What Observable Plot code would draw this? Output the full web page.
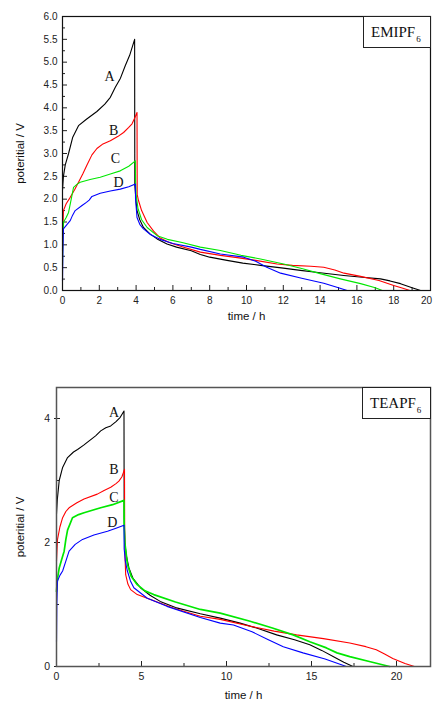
<!DOCTYPE html>
<html>
<head>
<meta charset="utf-8">
<script src="https://cdn.jsdelivr.net/npm/d3@7"></script>
<script src="https://cdn.jsdelivr.net/npm/@observablehq/plot@0.6"></script>
<style>
  html, body { margin: 0; padding: 0; background: white; }
  #wrap { position: relative; width: 433px; height: 701px; overflow: hidden; }
  .panel { position: absolute; left: 0; }
  .tag { position: absolute; box-sizing: border-box; border: 1px solid #222; background: white;
         font-family: "Liberation Serif", "Times New Roman", serif; font-size: 15px; color: #111;
         line-height: 1; padding: 8px 0 0 7px; }
  .tag sub { font-size: 9px; vertical-align: -5px; margin-left: 1px; }
</style>
</head>
<body>
<div id="wrap">
  <div class="panel" id="top" style="top:0"></div>
  <div class="panel" id="bottom" style="top:340px"></div>
  <div class="tag" style="left:363px; top:16px; width:68px; height:32px;">EMIPF<sub>6</sub></div>
  <div class="tag" style="left:362px; top:387px; width:69px; height:32px;">TEAPF<sub>6</sub></div>
</div>
<script>
// ---------- EMIPF6 (top panel): [time h, potential V] ----------
const emiA = [[0,2.2],[0.05,2.5],[0.15,2.75],[0.33,3.0],[0.55,3.35],[0.87,3.61],[1.3,3.75],[1.87,3.92],[2.3,4.08],[2.6,4.23],[2.87,4.45],[3.15,4.65],[3.41,4.92],[3.65,5.15],[3.92,5.5],
  [3.93,2.3],[4.0,1.95],[4.05,1.75],[4.2,1.55],[4.4,1.38],[4.75,1.24],[5.14,1.13],[5.68,1.02],[6.2,0.95],[7.0,0.87],[7.49,0.79],[8.0,0.73],[8.94,0.66],[9.8,0.6],[10.76,0.55],[12.0,0.49],[12.93,0.44],[14.0,0.39],[15.29,0.33],[16.3,0.29],[17.28,0.255],[17.8,0.21],[18.37,0.15],[19.0,0.06],[19.46,0]];
const emiB = [[0,0.87],[0.02,1.3],[0.05,1.75],[0.2,1.9],[0.42,2.04],[0.65,2.2],[0.87,2.37],[1.1,2.55],[1.33,2.75],[1.6,2.97],[1.87,3.11],[2.2,3.21],[2.6,3.28],[3.0,3.37],[3.32,3.46],[3.6,3.57],[3.78,3.65],[3.95,3.8],[4.05,3.9],
  [4.06,2.1],[4.13,1.97],[4.3,1.75],[4.6,1.49],[4.95,1.3],[5.3,1.15],[5.8,1.05],[6.5,0.96],[7.49,0.84],[8.58,0.77],[9.5,0.72],[10.5,0.66],[11.66,0.58],[12.5,0.55],[13.5,0.53],[14.2,0.51],[14.8,0.45],[15.3,0.38],[16.2,0.31],[17.2,0.22],[18.0,0.11],[18.5,0.05],[18.88,0]];
const emiC = [[0,0.55],[0.02,1.2],[0.06,1.5],[0.2,1.6],[0.33,1.71],[0.45,1.95],[0.6,2.26],[0.8,2.33],[0.96,2.37],[1.5,2.43],[2.05,2.48],[2.6,2.55],[3.14,2.62],[3.6,2.72],[3.96,2.84],
  [3.97,2.4],[4.0,2.1],[4.1,1.8],[4.3,1.55],[4.6,1.38],[5.14,1.2],[5.7,1.12],[6.5,1.05],[7.49,0.95],[8.58,0.875],[9.7,0.77],[10.76,0.69],[12.02,0.58],[13.0,0.48],[14.0,0.37],[15.1,0.255],[16.2,0.15],[17.0,0.06],[17.38,0]];
const emiD = [[0,0.2],[0.02,0.8],[0.05,1.35],[0.25,1.45],[0.42,1.53],[0.55,1.65],[0.69,1.75],[1.06,1.86],[1.3,1.93],[1.45,1.98],[1.6,2.06],[2.05,2.13],[2.6,2.18],[3.14,2.22],[3.6,2.27],[3.96,2.33],
  [3.97,2.0],[4.05,1.6],[4.2,1.45],[4.4,1.35],[4.8,1.22],[5.3,1.12],[6.0,1.03],[7.0,0.95],[7.49,0.9],[8.58,0.8],[9.85,0.73],[10.5,0.64],[11.1,0.51],[11.85,0.38],[13.0,0.27],[14.2,0.16],[15.0,0.06],[15.47,0]];
const emiLabels = [{t:2.56,v:4.68,name:"A"},{t:2.78,v:3.5,name:"B"},{t:2.87,v:2.88,name:"C"},{t:3.05,v:2.36,name:"D"}];

// ---------- TEAPF6 (bottom panel) ----------
const teaA = [[0,2.46],[0.05,2.7],[0.16,3.0],[0.36,3.21],[0.65,3.37],[1.0,3.46],[1.24,3.5],[1.6,3.57],[1.92,3.64],[2.3,3.72],[2.6,3.8],[2.9,3.85],[3.19,3.88],[3.5,3.95],[3.75,4.02],[3.97,4.12],
  [3.98,2.4],[4.02,2.0],[4.1,1.8],[4.26,1.59],[4.5,1.42],[4.94,1.27],[5.5,1.15],[6.1,1.05],[7.0,0.95],[8.46,0.85],[9.63,0.78],[10.8,0.7],[11.9,0.61],[12.95,0.51],[14.0,0.43],[14.9,0.35],[15.6,0.26],[16.27,0.16],[16.9,0.07],[17.44,0]];
const teaB = [[0,1.7],[0.06,2.05],[0.2,2.25],[0.36,2.4],[0.55,2.5],[0.74,2.56],[1.2,2.64],[1.62,2.7],[2.4,2.78],[2.8,2.84],[3.19,2.89],[3.5,2.95],[3.67,2.99],[3.85,3.06],[4.0,3.18],
  [4.01,2.2],[4.04,1.7],[4.07,1.48],[4.2,1.33],[4.36,1.24],[4.75,1.16],[5.53,1.08],[6.9,0.94],[8.46,0.81],[9.63,0.76],[11.39,0.65],[12.8,0.57],[14.12,0.51],[15.7,0.45],[17.25,0.38],[18.2,0.32],[18.81,0.27],[19.3,0.2],[19.78,0.13],[20.5,0.05],[21.05,0]];
const teaC = [[0,1.21],[0.05,1.4],[0.16,1.59],[0.3,1.72],[0.45,1.86],[0.55,2.05],[0.65,2.2],[0.94,2.4],[1.3,2.45],[1.62,2.48],[2.6,2.56],[3.3,2.61],[3.97,2.68],
  [3.98,2.3],[4.02,2.0],[4.17,1.65],[4.4,1.45],[4.75,1.32],[5.2,1.22],[5.72,1.16],[7.0,1.04],[8.46,0.92],[9.63,0.86],[11.39,0.73],[12.7,0.62],[13.92,0.51],[14.9,0.4],[15.88,0.3],[16.5,0.22],[17.25,0.16],[18.4,0.08],[19.59,0]];
const teaD = [[0,0.4],[0.02,1.0],[0.06,1.38],[0.2,1.47],[0.36,1.54],[0.55,1.7],[0.74,1.86],[1.1,1.97],[1.53,2.05],[2.2,2.12],[3.0,2.18],[3.5,2.23],[3.97,2.28],
  [3.98,1.9],[4.05,1.7],[4.17,1.54],[4.35,1.38],[4.55,1.27],[5.34,1.1],[6.5,0.97],[8.46,0.79],[9.63,0.7],[10.41,0.67],[11.5,0.56],[12.4,0.44],[13.34,0.32],[14.5,0.22],[15.8,0.12],[17.05,0]];
const teaLabels = [{t:3.38,v:4.1,name:"A"},{t:3.38,v:3.17,name:"B"},{t:3.38,v:2.73,name:"C"},{t:3.29,v:2.33,name:"D"}];

// ---------- ticks / labels ----------
const emiXMajor = [0,2,4,6,8,10,12,14,16,18];
const emiXLast = [20];
const emiXMinor = [1,3,5,7,9,11,13,15,17,19];
const emiYMajor = [0,0.5,1,1.5,2,2.5,3,3.5,4,4.5,5,5.5,6];
const emiYMinor = [0.25,0.75,1.25,1.75,2.25,2.75,3.25,3.75,4.25,4.75,5.25,5.75];
const teaXMajor = [0,5,10,15,20];
const teaXMinor = [2.5,7.5,12.5,17.5];
const teaYMajor = [0,2,4];
const teaYMinor = [1,3];
const seriesColors = ["black", "#ff0000", "#00e800", "#0000ff"];
const xTitle = "time / h";
const yTitle = "poteritial / V";

const P = d => d[0], V = d => d[1];

function curves(list, widths) {
  return list.map((arr, i) => Plot.line(arr, {x: P, y: V, stroke: seriesColors[i], strokeWidth: widths[i]}));
}

const topChart = Plot.plot({
  width: 433, height: 340,
  marginLeft: 62, marginRight: 3, marginTop: 16, marginBottom: 50,
  style: {fontFamily: "'Liberation Sans', Arial, sans-serif", fontSize: "10px", background: "white", color: "#222"},
  x: {domain: [0, 20]},
  y: {domain: [0, 6]},
  marks: [
    Plot.axisX({ticks: emiXMinor, tickSize: -3, fill: "none", label: null}),
    Plot.axisY({ticks: emiYMinor, tickSize: -3, fill: "none", label: null}),
    Plot.axisX({ticks: emiXMajor, tickSize: -5, tickPadding: 11, tickFormat: d => String(d), label: null}),
    Plot.axisX({ticks: emiXLast, tickSize: 0, tickPadding: 6, dx: -4, tickFormat: d => String(d), label: null}),
    Plot.axisY({ticks: emiYMajor, tickSize: -5, tickPadding: 10, tickFormat: d3.format(".1f"), label: null}),
    ...curves([emiA, emiB, emiC, emiD], [1.1, 1.1, 1.1, 1.1]),
    Plot.frame({stroke: "#111", strokeWidth: 1.2}),
    Plot.text(emiLabels, {x: "t", y: "v", text: "name", fontFamily: "'Liberation Serif', 'Times New Roman', serif", fontSize: 14, fill: "#111"}),
    Plot.text([yTitle], {frameAnchor: "left", textAnchor: "middle", lineAnchor: "middle", dx: -42, rotate: -90, fontSize: 11.5, fill: "#111"}),
    Plot.text([xTitle], {frameAnchor: "bottom", lineAnchor: "bottom", dy: 29, fontSize: 11.5, fill: "#111"})
  ]
});
document.getElementById("top").append(topChart);

const bottomChart = Plot.plot({
  width: 433, height: 361,
  marginLeft: 56, marginRight: 3, marginTop: 47, marginBottom: 35,
  style: {fontFamily: "'Liberation Sans', Arial, sans-serif", fontSize: "10.5px", background: "white", color: "#222"},
  x: {domain: [0, 22]},
  y: {domain: [0, 4.5]},
  marks: [
    Plot.axisX({ticks: teaXMinor, tickSize: -3, fill: "none", label: null}),
    Plot.axisY({ticks: teaYMinor, tickSize: -3, fill: "none", label: null}),
    Plot.axisY({ticks: teaYMajor, tickSize: 2, fill: "none", label: null}),
    Plot.axisX({ticks: teaXMajor, tickSize: -5, tickPadding: 11, tickFormat: d => String(d), label: null}),
    Plot.axisY({ticks: teaYMajor, tickSize: -4, tickPadding: 10.5, tickFormat: d => String(d), label: null}),
    ...curves([teaA, teaB, teaC, teaD], [1.1, 1.1, 1.7, 1.1]),
    Plot.frame({stroke: "#555", strokeWidth: 1.5}),
    Plot.text(teaLabels, {x: "t", y: "v", text: "name", fontFamily: "'Liberation Serif', 'Times New Roman', serif", fontSize: 14, fill: "#111"}),
    Plot.text([yTitle], {frameAnchor: "left", textAnchor: "middle", lineAnchor: "middle", dx: -36, rotate: -90, fontSize: 11.5, fill: "#111"}),
    Plot.text([xTitle], {frameAnchor: "bottom", lineAnchor: "bottom", dy: 32, fontSize: 11.5, fill: "#111"})
  ]
});
document.getElementById("bottom").append(bottomChart);
</script>
</body>
</html>
